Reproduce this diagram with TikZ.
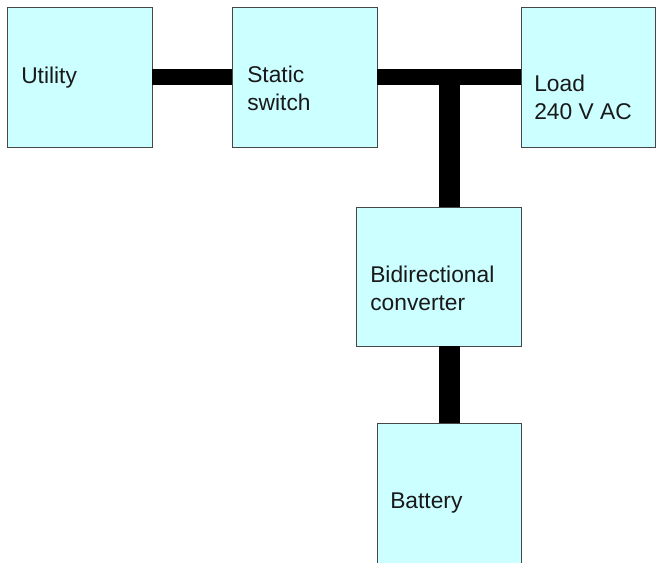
\documentclass[tikz,border=0pt]{standalone}
\usepackage{fontspec}
\setmainfont{Liberation Sans}
\usetikzlibrary{positioning}
\definecolor{boxcyan}{RGB}{204,255,255}
\definecolor{boxline}{RGB}{70,70,70}

\begin{document}
\begin{tikzpicture}[x=0.025cm,y=-0.025cm,
  blk/.style={draw=boxline,line width=0.6pt,fill=boxcyan,inner sep=0pt,outer sep=0pt},
  lbl/.style={anchor=base west,inner sep=0pt,align=left,text=black!90,font=\fontsize{16.2}{19.8}\selectfont},
  hbar/.style={line width=0.4cm},
  vbar/.style={line width=0.525cm}]
\useasboundingbox (0,0) rectangle (659,562);
\clip (0,0) rectangle (659,562);
\node[blk,minimum width=3.625cm,minimum height=3.5cm] (util) at (79.5,77) {};
\node[blk,minimum width=3.625cm,minimum height=3.5cm] (sw) at (304.5,77) {};
\node[blk,minimum width=3.35cm,minimum height=3.5cm] (load) at (588,77) {};
\node[blk,minimum width=4.125cm,minimum height=3.475cm] (conv) at (438.5,276.5) {};
\node[blk,minimum width=3.6cm,minimum height=3.625cm] (batt) at (449,495.5) {};
% text: anchor is the baseline of the last line
\node[lbl] (tutil) at (21,83) {Utility};
\node[lbl] (tsw) at (247,110) {Static\\switch};
\node[lbl] (tload) at (534,119) {Load\\240 V AC};
\node[lbl] (tconv) at (370,310) {Bidirectional\\converter};
\node[lbl] (tbatt) at (390,508) {Battery};
\coordinate (tee) at (batt.north |- sw.east);
\draw[hbar] (util.east) -- (sw.west);
\draw[hbar] (sw.east) -- (load.west);
\draw[vbar] (tee) -- (tee |- conv.north);
\draw[vbar] (batt.north |- conv.south) -- (batt.north);
\end{tikzpicture}
\end{document}
